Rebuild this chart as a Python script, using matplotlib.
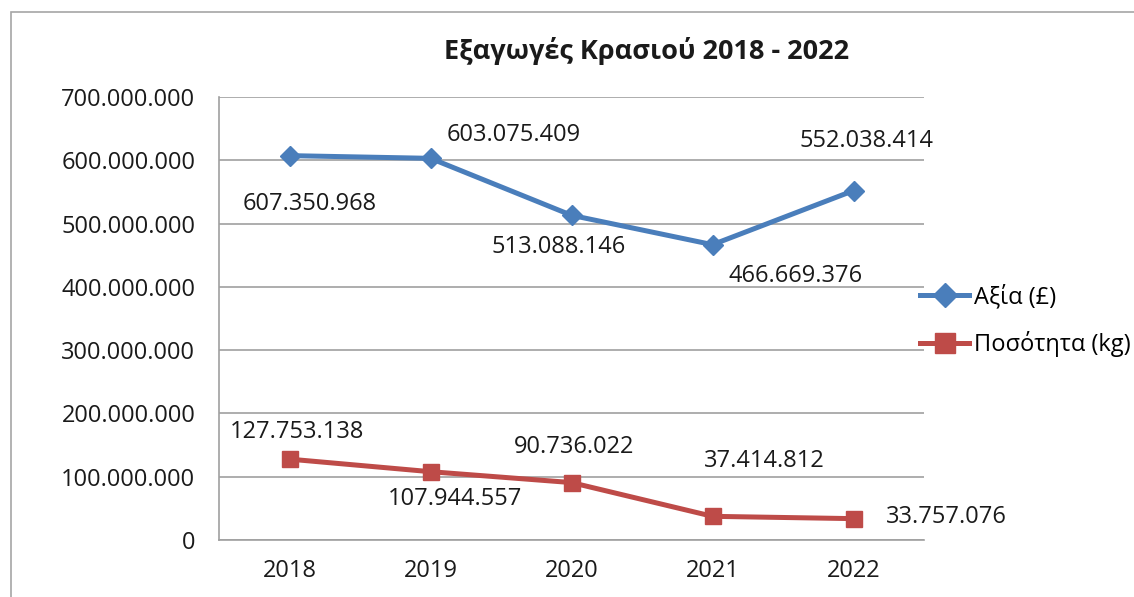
import matplotlib
matplotlib.use('Agg')
import matplotlib.pyplot as plt
from matplotlib.ticker import FuncFormatter

plt.rcParams['font.family'] = ['Open Sans', 'Noto Sans', 'DejaVu Sans']

years = ['2018', '2019', '2020', '2021', '2022']
value_gbp = [607350968, 603075409, 513088146, 466669376, 552038414]
quantity_kg = [127753138, 107944557, 90736022, 37414812, 33757076]

# label offsets (pixels) relative to each point, as in the original
value_offsets = [(20, -48), (83, 23), (-13, -32), (83, -31), (13, 50)]
qty_offsets = [(8, 27), (25, -27), (3, 36), (52, 55), (93, 2)]

BLUE = '#4A7EBB'
RED = '#BE4B48'
GRID = '#A0A0A0'
FS = 17


def dotted(v, pos=None):
    return '{:,.0f}'.format(v).replace(',', '.')


fig = plt.figure(figsize=(11.34, 5.97), dpi=100)
ax = fig.add_axes([219 / 1134, 1 - 540 / 597, 705 / 1134, 443 / 597])

# chart frame
frame = plt.Rectangle((11 / 1134, -0.1), 1.2, 1 - 12 / 597 + 0.1,
                      transform=fig.transFigure, fill=False,
                      edgecolor='#A6A6A6', linewidth=1.2)
fig.patches.append(frame)

x = list(range(len(years)))
ax.plot(x, value_gbp, color=BLUE, lw=3.6, marker='D', ms=10,
        label='Αξία (£)', zorder=3)
ax.plot(x, quantity_kg, color=RED, lw=3.6, marker='s', ms=12,
        label='Ποσότητα (kg)', zorder=3)

for i, v in enumerate(value_gbp):
    ax.annotate(dotted(v), (i, v), xytext=value_offsets[i],
                textcoords='offset pixels', ha='center', va='center',
                fontsize=FS, color='#1a1a1a')
for i, v in enumerate(quantity_kg):
    ax.annotate(dotted(v), (i, v), xytext=qty_offsets[i],
                textcoords='offset pixels', ha='center', va='center',
                fontsize=FS, color='#1a1a1a')

ax.set_xlim(-0.5, 4.5)
ax.set_ylim(0, 700000000)
ax.set_yticks(range(0, 700000001, 100000000))
ax.yaxis.set_major_formatter(FuncFormatter(dotted))
ax.set_xticks(x)
ax.set_xticklabels(years)
ax.tick_params(axis='both', length=0, labelsize=FS, colors='#1a1a1a')
ax.tick_params(axis='y', pad=17)
ax.tick_params(axis='x', pad=14)
ax.grid(axis='y', color=GRID, lw=1.2)
ax.set_axisbelow(True)
for s in ['top', 'right']:
    ax.spines[s].set_visible(False)
for s in ['left', 'bottom']:
    ax.spines[s].set_color(GRID)
    ax.spines[s].set_linewidth(1.2)

fig.text(647 / 1134, 1 - 51 / 597, 'Εξαγωγές Κρασιού 2018 - 2022',
         ha='center', va='center', fontsize=19.5, fontweight='bold',
         color='#1a1a1a')

ax.legend(loc='center left', bbox_to_anchor=(908 / 1134, 1 - 321 / 597),
          bbox_transform=fig.transFigure, frameon=False, fontsize=FS,
          handlelength=2.1, handletextpad=0.2, labelspacing=0.9,
          borderpad=0, markerscale=1.2)

fig.savefig('out.png', dpi=100)
